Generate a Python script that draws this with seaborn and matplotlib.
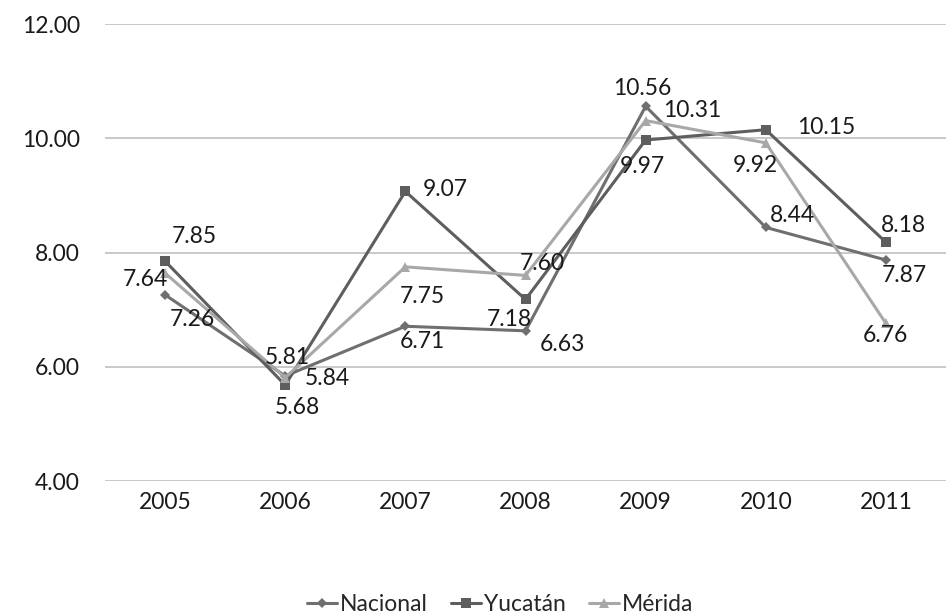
import matplotlib
matplotlib.use("Agg")
import matplotlib.pyplot as plt
import seaborn as sns
import pandas as pd

sns.set_style("white")
plt.rcParams['font.family'] = ['Lato', 'DejaVu Sans']

years = ["2005", "2006", "2007", "2008", "2009", "2010", "2011"]
nacional = [7.26, 5.84, 6.71, 6.63, 10.56, 8.44, 7.87]
yucatan = [7.85, 5.68, 9.07, 7.18, 9.97, 10.15, 8.18]
merida = [7.64, 5.81, 7.75, 7.60, 10.31, 9.92, 6.76]

series = ["Nacional", "Yucatán", "Mérida"]
colors = {"Nacional": "#6f6f6f", "Yucatán": "#5e5e5e", "Mérida": "#a8a8a8"}
markers = {"Nacional": "D", "Yucatán": "s", "Mérida": "^"}
msizes = {"Nacional": 5, "Yucatán": 7, "Mérida": 7}

# label offsets in pixels (dx, dy) relative to each point
offsets = {
    "Nacional": [(27, -25), (42, -3), (17, -15), (37, -14), (-3, 18), (27, 12), (18, -16)],
    "Yucatán": [(29, 25), (12, -22), (40, 2), (-16, -20), (-3, -26), (60, 2), (18, 17)],
    "Mérida": [(-20, -6), (2, 20), (17, -30), (17, 12), (47, 10), (-10, -23), (0, -12)],
}

df = pd.DataFrame({
    "x": list(range(len(years))) * 3,
    "valor": nacional + yucatan + merida,
    "serie": [s for s in series for _ in years],
})

fig = plt.figure(figsize=(9.46, 6.16), dpi=100)
ax = fig.add_axes([0.111, 0.219, 0.889, 0.742])

for s in series:
    d = df[df["serie"] == s]
    sns.lineplot(data=d, x="x", y="valor", ax=ax, color=colors[s], marker=markers[s],
                 markersize=msizes[s], markeredgewidth=0, linewidth=2.2, label=s)
    for (i, row), (dx, dy) in zip(d.reset_index().iterrows(), offsets[s]):
        ax.annotate(f"{row['valor']:.2f}", (row["x"], row["valor"]),
                    xytext=(dx, dy), textcoords="offset pixels",
                    ha="center", va="center", fontsize=16.5, color="#1a1a1a")

ax.set_ylim(4, 12)
ax.set_yticks([4, 6, 8, 10, 12])
ax.set_yticklabels([f"{v:.2f}" for v in [4, 6, 8, 10, 12]])
ax.set_xlim(-0.5, 6.5)
ax.set_xticks(range(len(years)))
ax.set_xticklabels(years)
ax.tick_params(axis="both", labelsize=16.5, colors="#1a1a1a", length=0)
ax.tick_params(axis="x", pad=8)
ax.tick_params(axis="y", pad=18)
ax.yaxis.grid(True, color="#c0c0c0", linewidth=1.2)
ax.set_axisbelow(True)
for sp in ax.spines.values():
    sp.set_visible(False)
ax.set_xlabel("")
ax.set_ylabel("")

ax.legend(loc="center", bbox_to_anchor=(0.47, -0.27), ncol=3, frameon=False,
          fontsize=16.5, handlelength=1.3, handletextpad=0.15, columnspacing=1.0)

plt.savefig("out.png", dpi=100)
